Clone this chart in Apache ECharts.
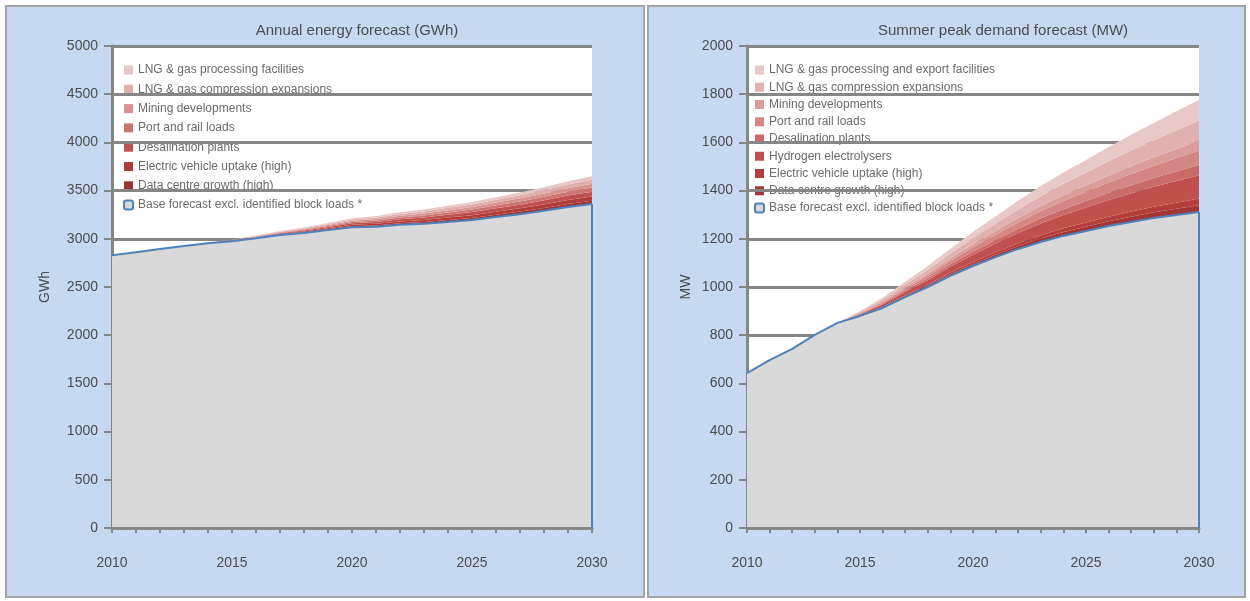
<!DOCTYPE html>
<html>
<head>
<meta charset="utf-8">
<title>Demand forecasts</title>
<script src="https://cdn.jsdelivr.net/npm/echarts@6/dist/echarts.min.js"></script>
<style>
  html, body { margin: 0; padding: 0; background: #ffffff; }
  #chart { width: 1250px; height: 601px; }
</style>
</head>
<body>
<div id="chart"></div>
<script>
// Forecast years (shared by both panels)
const years = ['2010','2011','2012','2013','2014','2015','2016','2017','2018','2019','2020',
               '2021','2022','2023','2024','2025','2026','2027','2028','2029','2030'];

// ---- Left panel: annual energy (GWh) ----
const energyTitle = 'Annual energy forecast (GWh)';
const energyAxisName = 'GWh';
const energyTicks = { min: 0, max: 5000, step: 500 };
const energyBaseName = 'Base forecast excl. identified block loads *';
const energyBase = [2830, 2860, 2895, 2925, 2955, 2975, 3005, 3040, 3060, 3090, 3120,
                    3125, 3145, 3155, 3175, 3195, 3225, 3255, 3290, 3330, 3360];
// additional loads, listed from the bottom of the stack upward
const energyAddNames = [
  'Data centre growth (high)',
  'Electric vehicle uptake (high)',
  'Desalination plants',
  'Port and rail loads',
  'Mining developments',
  'LNG & gas compression expansions',
  'LNG & gas processing facilities'
];
const energyAdd1 = [0,0,0,0,1,2,3,5,7,9,11,13,16,18,20,22,25,27,30,32,35];
const energyAdd2 = [0,0,0,0,1,2,4,6,8,11,14,17,19,22,25,28,31,34,37,40,43];
const energyAdd3 = [0,0,0,0,2,3,5,7,10,13,16,19,22,25,29,32,35,38,42,46,49];
const energyAdd4 = [0,0,0,0,1,3,4,6,8,11,14,16,20,22,25,28,31,34,37,40,44];
const energyAdd5 = [0,0,0,0,1,2,4,6,8,10,13,16,18,21,23,26,29,32,34,37,41];
const energyAdd6 = [0,0,0,0,1,2,4,6,8,10,13,15,18,21,24,26,28,31,35,38,41];
const energyAdd7 = [0,0,0,0,1,2,4,6,7,10,12,15,17,20,22,25,26,29,31,35,37];
const energyAdd = [energyAdd1, energyAdd2, energyAdd3, energyAdd4, energyAdd5, energyAdd6, energyAdd7];

// ---- Right panel: summer peak demand (MW) ----
const peakTitle = 'Summer peak demand forecast (MW)';
const peakAxisName = 'MW';
const peakTicks = { min: 0, max: 2000, step: 200 };
const peakBaseName = 'Base forecast excl. identified block loads *';
const peakBase = [643, 697, 743, 801, 851, 880, 913, 958, 1000, 1046, 1087,
                  1124, 1158, 1187, 1212, 1232, 1253, 1270, 1286, 1299, 1311];
const peakAddNames = [
  'Data centre growth (high)',
  'Electric vehicle uptake (high)',
  'Hydrogen electrolysers',
  'Desalination plants',
  'Port and rail loads',
  'Mining developments',
  'LNG & gas compression expansions',
  'LNG & gas processing and export facilities'
];
const peakAdd1 = [0,0,0,0,0,1,3,4,5,7,8,10,12,14,16,18,20,22,24,26,28];
const peakAdd2 = [0,0,0,0,0,1,2,4,5,7,9,10,12,14,16,18,19,21,23,25,28];
const peakAdd3 = [0,0,0,0,0,4,9,13,18,24,30,36,42,49,55,62,69,76,83,90,97];
const peakAdd4 = [0,0,0,0,0,2,4,6,8,10,13,15,18,21,24,27,30,33,36,39,42];
const peakAdd5 = [0,0,0,0,0,3,5,8,11,15,18,22,26,30,34,38,43,47,51,56,60];
const peakAdd6 = [0,0,0,0,0,2,4,6,8,10,12,15,18,21,24,26,29,32,35,38,41];
const peakAdd7 = [0,0,0,0,0,4,7,11,16,20,25,31,36,41,47,53,59,65,71,77,84];
const peakAdd8 = [0,0,0,0,0,3,8,12,16,20,26,31,36,42,47,53,59,66,72,79,85];
const peakAdd = [peakAdd1, peakAdd2, peakAdd3, peakAdd4, peakAdd5, peakAdd6, peakAdd7, peakAdd8];

// Band colours, darkest at the bottom of the stack
const energyColors = ['#9e3432', '#b03c3a', '#c0504d', '#cc7472', '#d69391', '#dfaead', '#e8c6c5'];
const peakColors   = ['#a33634', '#b33e3b', '#c0504d', '#ca6b68', '#d38684', '#da9d9b', '#e0b1b0', '#e9c9c8'];

const BASE_FILL = '#d9d9d9';
const BASE_LINE = '#4f81bd';
const AXIS_GREY = '#868686';
const TEXT_GREY = '#4d4d4d';
const FONT = 'Liberation Sans, Arial, sans-serif';

const panels = [
  { title: energyTitle, axisName: energyAxisName, ticks: energyTicks, baseName: energyBaseName,
    base: energyBase, addNames: energyAddNames, add: energyAdd, colors: energyColors,
    grid: { left: 112, top: 46, width: 480, height: 482 }, titleX: 352,
    legend: { left: 118, top: 59, itemGap: 7.3 }, nameGap: 60 },
  { title: peakTitle, axisName: peakAxisName, ticks: peakTicks, baseName: peakBaseName,
    base: peakBase, addNames: peakAddNames, add: peakAdd, colors: peakColors,
    grid: { left: 747, top: 46, width: 452, height: 482 }, titleX: 998,
    legend: { left: 749, top: 59, itemGap: 5.25 }, nameGap: 54 }
];

const option = {
  animation: false,
  textStyle: { fontFamily: FONT },
  graphic: [
    { type: 'rect', z: -10, silent: true, shape: { x: 6, y: 6, width: 638, height: 591 },
      style: { fill: '#c6d9f0', stroke: '#a3a3a3', lineWidth: 2 } },
    { type: 'rect', z: -10, silent: true, shape: { x: 648, y: 6, width: 597, height: 591 },
      style: { fill: '#c6d9f0', stroke: '#a3a3a3', lineWidth: 2 } }
  ],
  title: [], legend: [], grid: [], xAxis: [], yAxis: [], series: []
};

panels.forEach((p, i) => {
  option.title.push({
    text: p.title, left: p.titleX, top: 18, textAlign: 'center',
    textStyle: { color: TEXT_GREY, fontSize: 15, fontWeight: 'normal', fontFamily: FONT }
  });

  option.grid.push(Object.assign({ show: true, backgroundColor: '#ffffff', borderWidth: 0, z: 0 }, p.grid));

  option.xAxis.push({
    type: 'category', gridIndex: i, data: years, boundaryGap: false, z: 3,
    axisLine: { lineStyle: { color: AXIS_GREY, width: 3 } },
    axisTick: { interval: 0, length: 5, lineStyle: { color: AXIS_GREY, width: 2 } },
    axisLabel: { interval: 4, margin: 28, color: TEXT_GREY, fontSize: 14, fontFamily: FONT },
    splitLine: { show: false }
  });

  option.yAxis.push({
    type: 'value', gridIndex: i, min: p.ticks.min, max: p.ticks.max, interval: p.ticks.step, z: 1.5,
    name: p.axisName, nameLocation: 'middle', nameGap: p.nameGap, nameRotate: 90,
    nameTextStyle: { color: TEXT_GREY, fontSize: 14, fontFamily: FONT },
    axisLine: { show: true, lineStyle: { color: AXIS_GREY, width: 3 } },
    axisTick: { show: true, length: 8, lineStyle: { color: AXIS_GREY, width: 2 } },
    axisLabel: { margin: 14, color: TEXT_GREY, fontSize: 14, fontFamily: FONT,
                 formatter: v => String(v) },
    splitLine: { show: true, lineStyle: { color: AXIS_GREY, width: 3 } }
  });

  const stack = 'stack' + i;
  const last = years.length - 1;
  option.series.push({
    name: p.baseName, type: 'line', xAxisIndex: i, yAxisIndex: i, stack: stack,
    data: p.base, symbol: 'none', z: 2,
    lineStyle: { color: BASE_LINE, width: 2 },
    itemStyle: { color: BASE_FILL, borderColor: BASE_LINE },
    areaStyle: { color: BASE_FILL, opacity: 1 },
    markLine: {
      silent: true, symbol: 'none', label: { show: false },
      lineStyle: { color: BASE_LINE, width: 2, type: 'solid' },
      data: [[{ coord: [last, 0] }, { coord: [last, p.base[last]] }]]
    }
  });
  p.add.forEach((vals, k) => {
    option.series.push({
      name: p.addNames[k], type: 'line', xAxisIndex: i, yAxisIndex: i, stack: stack,
      data: vals, symbol: 'none', z: 2,
      lineStyle: { width: 0 },
      itemStyle: { color: p.colors[k] },
      areaStyle: { color: p.colors[k], opacity: 1 }
    });
  });

  // legend lists the top band first and the base forecast last
  const legendData = [];
  for (let k = p.addNames.length - 1; k >= 0; k--) {
    legendData.push({ name: p.addNames[k], icon: 'rect', itemStyle: { color: p.colors[k] } });
  }
  legendData.push({ name: p.baseName, icon: 'roundRect',
    itemStyle: { color: BASE_FILL, borderColor: BASE_LINE, borderWidth: 2 } });
  option.legend.push({
    data: legendData, orient: 'vertical', left: p.legend.left, top: p.legend.top,
    itemGap: p.legend.itemGap, itemWidth: 9, itemHeight: 9, z: 1,
    selectedMode: false, backgroundColor: 'transparent',
    textStyle: { color: '#6b6b6b', fontSize: 12, lineHeight: 11, fontFamily: FONT }
  });
});

const chart = echarts.init(document.getElementById('chart'), null, { renderer: 'canvas' });
chart.setOption(option);
</script>
</body>
</html>
